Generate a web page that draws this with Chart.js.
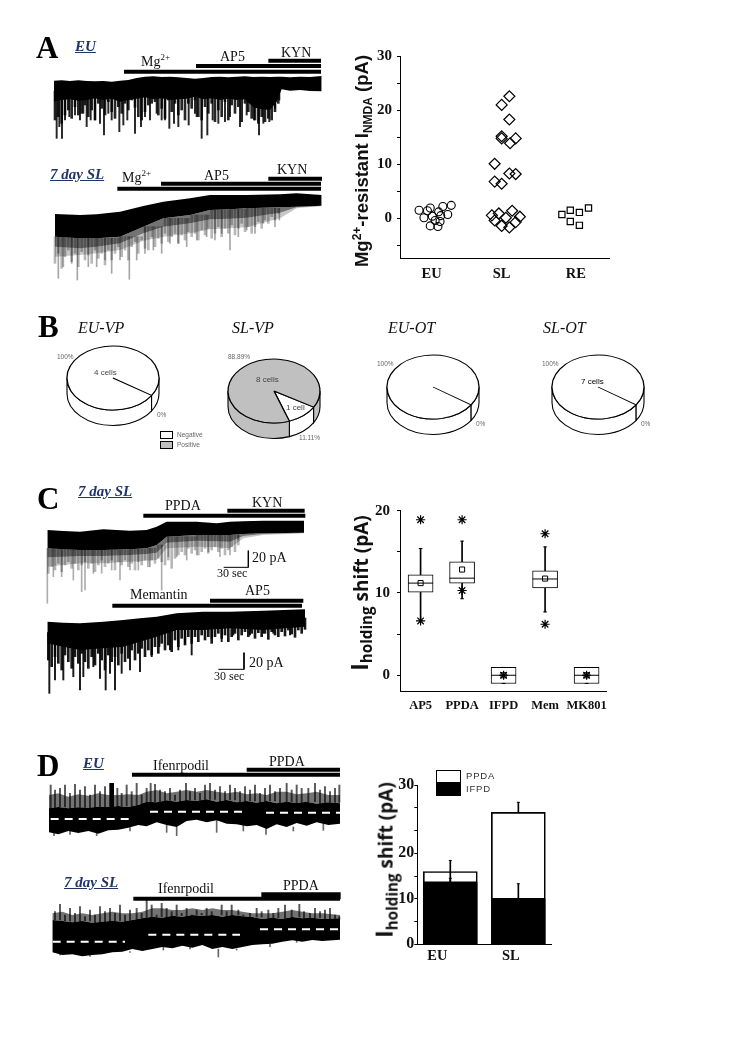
<!DOCTYPE html>
<html>
<head>
<meta charset="utf-8">
<title>Mg-resistant NMDA currents</title>
<script src="https://cdn.jsdelivr.net/npm/chart.js@4/dist/chart.umd.js"></script>
<style>
  html, body { margin: 0; background: #fff; }
  #page { position: relative; width: 730px; height: 1037px; overflow: hidden; }
  canvas { position: absolute; }
  .t { position: absolute; white-space: nowrap; line-height: 1; font-family: "Liberation Serif", serif; color: #111; }
  .letter { font-size: 31px; font-weight: bold; color: #000; }
  .tag { font-size: 15px; font-weight: bold; font-style: italic; color: #1f3468; text-decoration: underline; }
  .drug { font-size: 14px; }
  .pietitle { font-size: 16px; font-style: italic; }
  .small { position: absolute; white-space: nowrap; line-height: 1; font-family: "Liberation Sans", sans-serif; font-size: 6.5px; color: #666; transform: translateY(-50%); }
  .mid { font-size: 8px; color: #444; }
  .vert { position: absolute; white-space: nowrap; line-height: 1; font-weight: bold; color: #111; transform: translate(-50%, -50%) rotate(-90deg); }
  .vert sub, .vert sup { line-height: 0; }
  .sw { position: absolute; box-sizing: border-box; border: 1px solid #000; }
</style>
</head>
<body>
<div id="page">
  <canvas id="tracesA" width="310" height="270" style="left:30px;top:20px"></canvas>
  <canvas id="tracesC" width="310" height="230" style="left:30px;top:480px"></canvas>
  <canvas id="tracesD" width="320" height="220" style="left:30px;top:745px"></canvas>
  <canvas id="scatterA" width="280" height="250" style="left:340px;top:40px"></canvas>
  <canvas id="boxC" width="280" height="230" style="left:340px;top:490px"></canvas>
  <canvas id="barD" width="210" height="210" style="left:360px;top:760px"></canvas>
  <canvas id="pieEuVp" width="110" height="110" style="left:58px;top:323px"></canvas>
  <canvas id="pieSlVp" width="110" height="110" style="left:219px;top:336px"></canvas>
  <canvas id="pieEuOt" width="110" height="110" style="left:378px;top:332px"></canvas>
  <canvas id="pieSlOt" width="110" height="110" style="left:543px;top:332px"></canvas>
</div>
<script>
// ---- Panel A scatter: Mg2+-resistant I_NMDA (pA)
const scatterTicks = [-5, 0, 5, 10, 15, 20, 25, 30];
const scatterLabelled = [0, 10, 20, 30];
const groupNames = ['EU', 'SL', 'RE'];
const euX = [0.82, 0.89, 0.94, 0.98, 1.01, 0.98, 1.05, 1.09, 1.10, 1.12, 1.13, 1.16, 1.23, 1.28];
const euY = [1.5, 0.1, 1.4, 1.9, 0.4, -1.4, -0.4, -1.5, 1.2, -0.6, 0.5, 2.2, 0.7, 2.4];
const slX = [2.11, 2.0, 2.11, 2.0, 2.0, 2.2, 2.12, 1.9, 2.11, 2.2, 1.9, 2.0, 2.15, 1.96, 1.86, 2.26, 2.06, 1.9, 2.2, 2.0, 2.11];
const slY = [22.6, 21.0, 18.3, 15.2, 14.8, 14.8, 13.9, 10.1, 8.3, 8.2, 6.8, 6.4, 1.4, 0.9, 0.55, 0.3, 0.1, -0.4, -0.7, -1.4, -1.7];
const reX = [2.86, 2.98, 3.11, 3.24, 2.98, 3.11];
const reY = [0.7, 1.5, 1.1, 1.9, -0.6, -1.3];

// ---- Panel C box plot: I_holding shift (pA)
const drugNames = ['AP5', 'PPDA', 'IFPD', 'Mem', 'MK801'];
const drugPos = [1, 2, 3, 4, 5];
const boxLow = [10.1, 11.2, -1, 10.6, -1];
const boxHigh = [12.2, 13.8, 0.95, 12.7, 0.95];
const boxMedian = [11.2, 11.8, 0, 11.7, 0];
const boxMean = [11.2, 12.85, 0, 11.75, 0];
const whiskerLow = [6.6, 9.3, -1, 7.7, -1];
const whiskerHigh = [15.4, 16.3, 0.95, 15.6, 0.95];
const outlierX = [1, 1, 2, 2, 3, 4, 4, 5];
const outlierY = [18.9, 6.6, 18.9, 10.3, 0, 17.2, 6.2, 0];
const boxTicks = [0, 5, 10, 15, 20];
const boxLabelled = [0, 10, 20];

// ---- Panel D stacked bars. The printed axis is uneven: its "30" sits one
// step too high, so the top tick label is hung on the 35 position.
const barPos = [1, 2];
const barNames = ['EU', 'SL'];
const ifpdValues = [13.5, 9.9];
const ifpdError = [14.5, 13.3];
const totalValues = [16, 29];
const totalError = [18.4, 31.2];
const totalErrorLow = [13, 29];
const barTicks = [0, 5, 10, 15, 20, 25, 30, 35];
const barLabels = { 0: '0', 10: '10', 20: '20', 35: '30' };

// ---- Panel B pies (% of cells)
const pieNames = ['Negative', 'Positive'];
const euVpShare = [100, 0];
const slVpShare = [11.11, 88.89];
const euOtShare = [100, 0];
const slOtShare = [100, 0];

// ---- Recordings in trace units (time, deflection downward)
const a1Time = [72, 95, 120, 145, 170, 195, 220, 245, 270, 295, 320, 345, 370, 395, 420, 445, 470, 495, 520, 545, 570, 595, 620, 645, 670, 695, 720, 740, 755, 780, 810, 840, 875];
const a1Top = [182, 181, 183, 181, 183, 184, 183, 185, 182, 180, 174, 170, 169, 171, 170, 172, 174, 176, 174, 171, 170, 172, 170, 169, 171, 170, 171, 170, 170, 172, 170, 171, 168];
const a1Body = [245, 240, 238, 242, 240, 235, 240, 236, 245, 240, 236, 232, 238, 235, 240, 238, 236, 230, 238, 235, 240, 236, 240, 238, 262, 268, 270, 245, 208, 212, 210, 213, 214];
const a1SpikeTime = [80, 88, 96, 105, 118, 135, 150, 160, 170, 182, 195, 210, 222, 235, 245, 268, 280, 292, 315, 333, 345, 360, 380, 395, 405, 418, 432, 445, 476, 495, 500, 515, 532, 548, 565, 585, 600, 630, 650, 672, 687, 700, 718, 735, 748];
const a1SpikeTip = [355, 320, 355, 300, 290, 285, 300, 280, 320, 300, 300, 310, 345, 280, 300, 335, 315, 300, 340, 320, 290, 300, 280, 300, 300, 325, 310, 320, 315, 280, 290, 355, 345, 300, 310, 305, 290, 320, 285, 300, 345, 310, 305, 265, 240];
const a1FringeTime = [75, 85, 95, 105, 115, 125, 135, 145, 155, 165, 175, 185, 195, 205, 215, 225, 235, 245, 255, 265, 275, 285, 295, 305, 315, 325, 335, 345, 355, 365, 375, 385, 395, 405, 415, 425, 435, 445, 455, 465, 475, 485, 495, 505, 515, 525, 535, 545, 555, 565, 575, 585, 595, 605, 615, 625, 635, 645, 655, 665, 675, 685, 695, 705, 715, 725, 735, 745];
const a1FringeTip = [300, 290, 310, 285, 270, 295, 260, 285, 280, 255, 290, 270, 300, 250, 265, 285, 245, 275, 295, 260, 280, 250, 270, 240, 262, 290, 300, 275, 255, 250, 245, 285, 265, 295, 240, 275, 250, 285, 270, 300, 250, 265, 240, 290, 300, 260, 280, 250, 305, 270, 290, 245, 300, 255, 280, 260, 305, 250, 275, 295, 300, 310, 290, 305, 295, 300, 275, 250];

const a2Time = [75, 150, 200, 270, 340, 400, 480, 540, 600, 650, 750, 800, 875];
const a2Top = [582, 585, 583, 575, 558, 545, 535, 525, 525, 525, 523, 520, 525];
const a2Body = [650, 655, 655, 650, 620, 595, 585, 570, 568, 565, 562, 560, 557];
const a2Mid = [680, 685, 680, 670, 640, 620, 610, 598, 596, 593, 578, 562, 558];
const a2Tail = [710, 705, 700, 690, 662, 650, 640, 628, 625, 622, 595, 565, 558];
const a2SpikeTime = [85, 100, 125, 142, 175, 200, 225, 245, 270, 298, 320, 345, 370, 395, 420, 445, 470, 500, 530, 555, 575, 600, 625, 650, 675, 700, 735, 748];
const a2SpikeTip = [775, 740, 730, 780, 740, 740, 720, 760, 720, 778, 720, 700, 690, 700, 670, 670, 680, 660, 650, 660, 640, 690, 650, 630, 640, 610, 620, 600];
const a2FringeTime = [75, 85, 95, 105, 115, 125, 135, 145, 155, 165, 175, 185, 195, 205, 215, 225, 235, 245, 255, 265, 275, 285, 295, 305, 315, 325, 335, 345, 355, 365, 375, 385, 395, 405, 415, 425, 435, 445, 455, 465, 475, 485, 495, 505, 515, 525, 535, 545, 555, 565, 575, 585, 595, 605, 615, 625, 635, 645, 655, 665, 675, 685, 695, 705, 715, 725, 735, 745];
const a2FringeTip = [730, 700, 745, 710, 690, 725, 700, 740, 695, 720, 705, 730, 690, 715, 700, 735, 690, 720, 700, 680, 710, 690, 720, 680, 665, 700, 660, 685, 690, 650, 680, 655, 670, 640, 665, 650, 640, 670, 645, 660, 635, 650, 640, 660, 630, 645, 625, 655, 640, 620, 650, 625, 640, 615, 645, 625, 610, 635, 620, 640, 620, 605, 625, 600, 610, 590, 600, 580];

const c1Time = [52, 100, 150, 220, 300, 350, 380, 410, 500, 560, 600, 640, 700, 822];
const c1Top = [150, 153, 155, 148, 152, 150, 140, 125, 125, 130, 125, 124, 122, 122];
const c1Body = [205, 208, 210, 210, 208, 205, 195, 170, 165, 165, 165, 162, 160, 158];
const c1Mid = [232, 230, 228, 228, 225, 222, 218, 188, 182, 184, 185, 168, 162, 159];
const c1Tail = [260, 255, 250, 250, 245, 242, 240, 205, 200, 202, 205, 175, 165, 160];
const c1SpikeTime = [52, 70, 95, 130, 155, 165, 190, 215, 245, 270, 300, 325, 360, 395, 415, 440, 470, 500, 535, 570, 600, 625];
const c1SpikeTip = [370, 290, 290, 300, 335, 330, 280, 280, 270, 300, 270, 270, 260, 330, 230, 230, 240, 225, 215, 230, 225, 180];
const c1FringeTime = [55, 65, 75, 85, 95, 105, 115, 125, 135, 145, 155, 165, 175, 185, 195, 205, 215, 225, 235, 245, 255, 265, 275, 285, 295, 305, 315, 325, 335, 345, 355, 365, 375, 385, 395, 405, 415, 425, 435, 445, 455, 465, 475, 485, 495, 505, 515, 525, 535, 545, 555, 565, 575, 585, 595, 605, 615, 625];
const c1FringeTip = [280, 260, 270, 250, 275, 255, 245, 265, 250, 270, 255, 245, 265, 250, 275, 255, 240, 260, 250, 240, 270, 245, 255, 240, 260, 250, 270, 245, 255, 240, 260, 240, 250, 235, 245, 255, 240, 265, 235, 225, 215, 225, 205, 220, 210, 225, 215, 205, 220, 210, 200, 215, 205, 225, 210, 200, 215, 195];

const c2Time = [52, 100, 150, 220, 280, 330, 380, 440, 520, 600, 700, 825];
const c2Top = [425, 428, 430, 425, 420, 415, 410, 400, 395, 395, 392, 388];
const c2Body = [490, 500, 510, 505, 500, 485, 470, 450, 450, 445, 450, 440];
const c2SpikeTime = [58, 75, 100, 130, 150, 160, 190, 210, 227, 240, 255, 275, 300, 330, 365, 388, 420, 445, 465, 485, 545, 575, 610, 660, 700, 730, 780];
const c2SpikeTip = [640, 600, 600, 590, 630, 590, 560, 595, 630, 580, 630, 580, 570, 575, 530, 500, 510, 510, 490, 525, 475, 485, 465, 465, 460, 460, 465];
const c2FringeTime = [55, 65, 75, 85, 95, 105, 115, 125, 135, 145, 155, 165, 175, 185, 195, 205, 215, 225, 235, 245, 255, 265, 275, 285, 295, 305, 315, 325, 335, 345, 355, 365, 375, 385, 395, 405, 415, 425, 435, 445, 455, 465, 475, 485, 495, 505, 515, 525, 535, 545, 555, 565, 575, 585, 595, 605, 615, 625, 635, 645, 655, 665, 675, 685, 695, 705, 715, 725, 735, 745, 755, 765, 775, 785, 795, 805, 815, 825];
const c2FringeTip = [540, 560, 530, 550, 570, 525, 545, 565, 530, 550, 520, 545, 565, 530, 555, 520, 540, 570, 525, 545, 530, 555, 520, 545, 535, 510, 540, 520, 505, 530, 510, 525, 500, 520, 490, 510, 495, 515, 480, 500, 475, 495, 470, 490, 470, 485, 465, 480, 470, 490, 470, 460, 475, 465, 485, 470, 460, 480, 465, 455, 470, 460, 475, 458, 470, 460, 478, 455, 465, 470, 455, 468, 450, 462, 472, 450, 460, 448];

const d1Time = [57, 85, 115, 145, 175, 205, 235, 265, 295, 325, 350, 380, 410, 440, 470, 500, 530, 560, 590, 620, 650, 680, 710, 740, 770, 800, 830, 860, 895, 930];
const d1Haze = [150, 145, 155, 148, 152, 145, 150, 150, 148, 150, 140, 135, 145, 140, 135, 140, 135, 140, 145, 140, 148, 145, 150, 140, 140, 148, 145, 140, 150, 150];
const d1Top = [190, 186, 190, 187, 188, 185, 186, 183, 186, 180, 170, 172, 166, 170, 165, 168, 163, 170, 165, 172, 168, 173, 168, 175, 170, 174, 170, 176, 172, 175];
const d1Body = [262, 268, 258, 264, 258, 266, 256, 254, 248, 240, 244, 232, 240, 246, 228, 224, 232, 226, 236, 238, 244, 240, 252, 238, 246, 234, 242, 232, 240, 236];
const d1UpTime = [62, 75, 90, 105, 120, 135, 150, 165, 180, 195, 210, 225, 262, 275, 290, 305, 320, 335, 350, 362, 375, 390, 405, 420, 435, 450, 468, 480, 495, 510, 525, 540, 555, 570, 585, 600, 615, 630, 645, 660, 675, 690, 705, 720, 735, 750, 770, 785, 800, 815, 835, 855, 870, 885, 900, 915, 928];
const d1UpTip = [120, 135, 130, 120, 145, 118, 135, 125, 150, 120, 140, 125, 130, 145, 120, 140, 115, 150, 130, 115, 118, 135, 140, 130, 150, 135, 115, 140, 130, 145, 120, 115, 135, 125, 140, 120, 130, 140, 125, 135, 120, 145, 130, 120, 140, 130, 115, 135, 120, 130, 130, 115, 135, 125, 140, 130, 120];
const d1DownTime = [72, 120, 200, 300, 410, 440, 560, 640, 708, 790, 880];
const d1DownTip = [272, 268, 272, 258, 262, 272, 262, 258, 268, 258, 256];
const d1Burst = [245];
const d1BurstTip = [115];

const d2Time = [67, 97, 127, 157, 187, 217, 247, 277, 307, 337, 367, 397, 427, 457, 487, 517, 547, 577, 607, 637, 667, 697, 727, 757, 787, 817, 847, 877, 930];
const d2Haze = [505, 500, 510, 505, 510, 505, 500, 505, 505, 500, 490, 490, 495, 495, 490, 495, 490, 495, 495, 500, 505, 505, 505, 500, 495, 500, 505, 505, 510];
const d2Top = [525, 528, 532, 528, 533, 530, 527, 530, 525, 520, 515, 518, 512, 515, 510, 513, 510, 515, 510, 514, 516, 522, 518, 522, 516, 520, 518, 522, 520];
const d2Body = [622, 630, 628, 634, 630, 628, 622, 620, 612, 618, 612, 606, 610, 602, 608, 600, 612, 606, 612, 606, 600, 598, 596, 590, 586, 590, 585, 588, 584];
const d2UpTime = [75, 90, 105, 120, 135, 150, 165, 180, 195, 210, 225, 240, 255, 270, 285, 300, 320, 335, 350, 365, 380, 395, 410, 425, 440, 455, 470, 485, 500, 515, 530, 545, 575, 590, 605, 625, 640, 660, 680, 695, 715, 730, 745, 765, 785, 808, 822, 840, 855, 870, 885, 900, 915, 928];
const d2UpTip = [500, 478, 510, 490, 505, 485, 515, 495, 510, 485, 500, 490, 505, 480, 510, 495, 490, 505, 465, 480, 510, 475, 490, 500, 480, 505, 490, 510, 495, 505, 490, 500, 480, 500, 480, 495, 510, 505, 490, 500, 495, 505, 490, 480, 495, 478, 500, 505, 490, 500, 495, 490, 510, 515];
const d2DownTime = [90, 180, 300, 400, 480, 565, 620, 720, 800];
const d2DownTip = [630, 632, 622, 615, 612, 636, 615, 605, 592];

// Chart.js defaults
Chart.defaults.animation = false;
Chart.defaults.responsive = false;
Chart.defaults.plugins.legend.display = false;
Chart.defaults.plugins.tooltip.enabled = false;

const INK = '#000';
const SERIF = 'Liberation Serif';

// Hàm vẽ thanh ngang (thuốc, thang đo, đường cơ sở)
function segment(x0, y0, x1, y1, width, color, dash) {
  return {
    type: 'line', order: 1, data: [{ x: x0, y: y0 }, { x: x1, y: y1 }],
    borderColor: color || INK, borderWidth: width, pointRadius: 0,
    borderDash: dash || [], borderCapStyle: 'butt'
  };
}

function points(xs, ys) {
  return xs.map((x, i) => ({ x: x, y: ys[i] }));
}

// filled band between two outlines of a trace
function band(time, upper, lower, color) {
  return [
    { type: 'line', order: 3, data: points(time, upper), borderWidth: 0, pointRadius: 0, fill: '+1', backgroundColor: color },
    { type: 'line', order: 3, data: points(time, lower), borderWidth: 0, pointRadius: 0, fill: false }
  ];
}

// middle of the trace body at the last sample before t, spikes start from there
function bodyAt(time, top, body, t) {
  let k = 0;
  time.forEach((v, i) => { if (v <= t) k = i; });
  return (top[k] + body[k]) / 2;
}

function spikes(spikeTime, spikeTip, time, top, body, color, thickness) {
  return {
    type: 'bar', order: 2, grouped: false, barThickness: thickness || 1,
    data: spikeTime.map((t, i) => ({ x: t, y: [bodyAt(time, top, body, t), spikeTip[i]] })),
    backgroundColor: color, borderWidth: 0
  };
}

function traceChart(id, xMax, yMax, datasets) {
  return new Chart(document.getElementById(id), {
    type: 'bar',
    data: { datasets: datasets },
    options: {
      layout: { padding: 0 },
      scales: {
        x: { type: 'linear', display: false, min: 0, max: xMax, offset: false },
        y: { type: 'linear', display: false, min: 0, max: yMax, reverse: true }
      }
    }
  });
}

traceChart('tracesA', 930, 810, [
  segment(282, 155, 873, 155, 4), segment(498, 138, 873, 138, 4), segment(715, 122, 873, 122, 4),
  segment(262, 506, 873, 506, 4), segment(393, 491, 873, 491, 4), segment(715, 476, 876, 476, 4),
  ...band(a1Time, a1Top, a1Body, '#000'),
  spikes(a1FringeTime, a1FringeTip, a1Time, a1Top, a1Body, 'rgba(0,0,0,0.85)', 2),
  spikes(a1SpikeTime, a1SpikeTip, a1Time, a1Top, a1Body, 'rgba(0,0,0,0.85)', 1.3),
  ...band(a2Time, a2Top, a2Body, '#000'),
  ...band(a2Time, a2Body, a2Mid, 'rgba(0,0,0,0.55)'),
  ...band(a2Time, a2Mid, a2Tail, 'rgba(0,0,0,0.22)'),
  spikes(a2FringeTime, a2FringeTip, a2Time, a2Body, a2Body, 'rgba(0,0,0,0.28)', 2),
  spikes(a2SpikeTime, a2SpikeTip, a2Time, a2Body, a2Body, 'rgba(0,0,0,0.35)', 1)
]);

traceChart('tracesC', 930, 690, [
  segment(340, 107, 826, 107, 4), segment(592, 92, 824, 92, 4),
  segment(247, 377, 816, 377, 4), segment(540, 362, 820, 362, 4),
  segment(655, 212, 655, 262, 1), segment(581, 262, 655, 262, 1),
  segment(642, 518, 642, 568, 1), segment(565, 568, 642, 568, 1),
  ...band(c1Time, c1Top, c1Body, '#000'),
  ...band(c1Time, c1Body, c1Mid, 'rgba(0,0,0,0.55)'),
  ...band(c1Time, c1Mid, c1Tail, 'rgba(0,0,0,0.22)'),
  spikes(c1FringeTime, c1FringeTip, c1Time, c1Body, c1Body, 'rgba(0,0,0,0.28)', 2),
  spikes(c1SpikeTime, c1SpikeTip, c1Time, c1Body, c1Body, 'rgba(0,0,0,0.32)', 1),
  ...band(c2Time, c2Top, c2Body, '#000'),
  spikes(c2FringeTime, c2FringeTip, c2Time, c2Top, c2Body, 'rgba(0,0,0,0.9)', 2),
  spikes(c2SpikeTime, c2SpikeTip, c2Time, c2Top, c2Body, 'rgba(0,0,0,0.9)', 1.3)
]);

const DASH = [8, 6];
traceChart('tracesD', 960, 660, [
  segment(62, 222, 300, 222, 2, '#fff', DASH), segment(360, 200, 640, 200, 2, '#fff', DASH), segment(708, 203, 930, 203, 2, '#fff', DASH),
  segment(68, 590, 285, 590, 2, '#fff', DASH), segment(355, 569, 630, 569, 2, '#fff', DASH), segment(690, 553, 925, 553, 2, '#fff', DASH),
  segment(306, 89, 930, 89, 4), segment(650, 74, 930, 74, 4),
  segment(310, 461, 930, 461, 4), segment(694, 452, 932, 452, 7),
  ...band(d1Time, d1Haze, d1Top, 'rgba(0,0,0,0.55)'),
  ...band(d1Time, d1Top, d1Body, '#000'),
  spikes(d1UpTime, d1UpTip, d1Time, d1Top, d1Top, 'rgba(0,0,0,0.65)', 1.3),
  spikes(d1DownTime, d1DownTip, d1Time, d1Body, d1Body, 'rgba(0,0,0,0.6)', 1),
  spikes(d1Burst, d1BurstTip, d1Time, d1Top, d1Top, '#000', 4),
  ...band(d2Time, d2Haze, d2Top, 'rgba(0,0,0,0.55)'),
  ...band(d2Time, d2Top, d2Body, '#000'),
  spikes(d2UpTime, d2UpTip, d2Time, d2Top, d2Top, 'rgba(0,0,0,0.65)', 1.3),
  spikes(d2DownTime, d2DownTip, d2Time, d2Body, d2Body, 'rgba(0,0,0,0.6)', 1)
]);

// x/y axis options shared by the three plots
function valueAxis(min, max, ticks, labelOf, axisWidth, fontSize, pad) {
  return {
    type: 'linear', min: min, max: max,
    afterBuildTicks: s => { s.ticks = ticks.map(v => ({ value: v })); },
    afterFit: s => { s.width = axisWidth; },
    grid: { display: true, drawOnChartArea: false, drawTicks: true, tickLength: 3, color: INK, tickColor: INK },
    border: { color: INK, width: 1 },
    ticks: { callback: labelOf, padding: pad, color: '#111', font: { family: SERIF, weight: 'bold', size: fontSize } }
  };
}

function nameAxis(min, max, ticks, labelOf, axisHeight, fontSize, pad) {
  return {
    type: 'linear', min: min, max: max, offset: false,
    afterBuildTicks: s => { s.ticks = ticks.map(v => ({ value: v })); },
    afterFit: s => { s.height = axisHeight; },
    grid: { display: false, drawTicks: false },
    border: { color: INK, width: 1 },
    ticks: { callback: labelOf, autoSkip: false, maxRotation: 0, padding: pad, color: '#111', font: { family: SERIF, weight: 'bold', size: fontSize } }
  };
}

function markers(xs, ys, style, radius, weight) {
  return {
    type: 'scatter', order: 1, data: points(xs, ys), pointStyle: style, pointRadius: radius,
    pointBorderColor: INK, pointBorderWidth: weight || 1, pointBackgroundColor: 'rgba(255,255,255,0)', showLine: false
  };
}

const scatterSpots = [1, 2, 3.06];
new Chart(document.getElementById('scatterA'), {
  type: 'scatter',
  data: { datasets: [
    markers(euX, euY, 'circle', 4, 1.1),
    markers(slX, slY, 'rectRot', 5.5, 1.2),
    markers(reX, reY, 'rect', 4.4, 1.2)
  ] },
  options: {
    layout: { padding: { top: 16.3, right: 11, bottom: 0, left: 0 } },
    scales: {
      x: nameAxis(0.548, 3.533, scatterSpots, v => groupNames[scatterSpots.indexOf(v)] || '', 31.7, 14.5, 7),
      y: valueAxis(-7.4, 30, scatterTicks, v => scatterLabelled.includes(v) ? String(v) : '', 60, 15, 5)
    }
  }
});

// hộp: whisker, box, median, mean, outliers
new Chart(document.getElementById('boxC'), {
  type: 'bar',
  data: { datasets: [
    { type: 'bar', order: 4, grouped: false, barThickness: 1, data: drugPos.map((x, i) => ({ x: x, y: [whiskerLow[i], whiskerHigh[i]] })), backgroundColor: INK, borderWidth: 0 },
    { type: 'bar', order: 3, grouped: false, barThickness: 25, data: drugPos.map((x, i) => ({ x: x, y: [boxLow[i], boxHigh[i]] })), backgroundColor: '#fff', borderColor: INK, borderWidth: 1, borderSkipped: false },
    markers(drugPos, whiskerHigh, 'line', 1.8),
    markers(drugPos, whiskerLow, 'line', 1.8),
    markers(drugPos, boxMedian, 'line', 12.5),
    markers(drugPos, boxMean, 'rect', 3.6),
    markers(outlierX, outlierY, 'star', 4.6, 1.2)
  ] },
  options: {
    layout: { padding: { top: 20.7, right: 12.3, bottom: 0, left: 0 } },
    scales: {
      x: nameAxis(0.504, 5.48, drugPos, v => drugNames[drugPos.indexOf(v)] || '', 28.7, 12.5, 7),
      y: valueAxis(-1.95, 20, boxTicks, v => boxLabelled.includes(v) ? String(v) : '', 60, 15, 7)
    }
  }
});

const barSpots = [0.81, 1.89];
new Chart(document.getElementById('barD'), {
  type: 'bar',
  data: { datasets: [
    { type: 'bar', order: 5, grouped: false, barThickness: 1, data: barPos.map((x, i) => ({ x: x, y: [totalErrorLow[i], totalError[i]] })), backgroundColor: INK, borderWidth: 0 },
    { type: 'bar', order: 4, grouped: false, barThickness: 54, data: barPos.map((x, i) => ({ x: x, y: [ifpdValues[i], totalValues[i]] })), backgroundColor: 'rgba(255,255,255,0)', borderColor: INK, borderWidth: 1, borderSkipped: false },
    { type: 'bar', order: 3, grouped: false, barThickness: 1, data: barPos.map((x, i) => ({ x: x, y: [ifpdValues[i], ifpdError[i]] })), backgroundColor: INK, borderWidth: 0 },
    { type: 'bar', order: 2, grouped: false, barThickness: 54, data: barPos.map((x, i) => ({ x: x, y: [0, ifpdValues[i]] })), backgroundColor: INK, borderWidth: 0 },
    markers(barPos, totalError, 'line', 1.5),
    markers(barPos, ifpdError, 'line', 1.5)
  ] },
  options: {
    layout: { padding: { top: 25, right: 18.3, bottom: 0, left: 0 } },
    scales: {
      x: nameAxis(0.515, 2.49, barSpots, v => barNames[barSpots.indexOf(v)] || '', 25.7, 14.5, 3),
      y: valueAxis(0, 35, barTicks, v => barLabels[v] || '', 57.3, 16, 0)
    }
  }
});

// Hàm vẽ pie kiểu 3D: thành trụ vẽ trước, mặt trên ép dẹt
const SQUASH = 0.695;
const WALL = 15.5;
const pie3d = {
  id: 'pie3d',
  beforeDatasetsDraw(chart) {
    const ctx = chart.ctx;
    const arcs = chart.getDatasetMeta(0).data;
    const cx = arcs[0].x, cy = arcs[0].y, r = arcs[0].outerRadius;
    ctx.save();
    ctx.strokeStyle = INK;
    ctx.lineWidth = 1.1;
    arcs.forEach((arc, i) => {
      [0, -2 * Math.PI, 2 * Math.PI].forEach(shift => {
        const lo = Math.max(arc.startAngle + shift, 0);
        const hi = Math.min(arc.endAngle + shift, Math.PI);
        if (hi <= lo) return;
        ctx.beginPath();
        ctx.ellipse(cx, cy, r, r * SQUASH, 0, lo, hi);
        ctx.ellipse(cx, cy + WALL, r, r * SQUASH, 0, hi, lo, true);
        ctx.closePath();
        ctx.fillStyle = chart.data.datasets[0].backgroundColor[i];
        ctx.fill();
        ctx.stroke();
      });
    });
    ctx.restore();
    ctx.save();
    ctx.translate(0, cy);
    ctx.scale(1, SQUASH);
    ctx.translate(0, -cy);
  },
  afterDatasetsDraw(chart) {
    chart.ctx.restore();
  }
};

function pieChart(id, share, rotation) {
  return new Chart(document.getElementById(id), {
    type: 'pie',
    data: { labels: pieNames, datasets: [{
      data: share, backgroundColor: ['#fff', '#c0c0c0'], borderColor: INK, borderWidth: 1.3
    }] },
    options: { radius: 46, rotation: rotation, layout: { padding: 0 } },
    plugins: [pie3d]
  });
}

pieChart('pieEuVp', euVpShare, 123);
pieChart('pieSlVp', slVpShare, 120.5);
pieChart('pieEuOt', euOtShare, 124);
pieChart('pieSlOt', slOtShare, 124);

// Hàm đặt chữ: x trái, baseline y
const page = document.getElementById('page');
function text(str, x, baseline, cls) {
  const el = document.createElement('div');
  el.className = 't ' + cls;
  el.innerHTML = str;
  page.appendChild(el);
  const size = parseFloat(getComputedStyle(el).fontSize);
  el.style.left = x + 'px';
  el.style.top = (baseline - 0.84 * size) + 'px';
  return el;
}
function small(str, x, cy, cls) {
  const el = document.createElement('div');
  el.className = 'small ' + (cls || '');
  el.textContent = str;
  el.style.left = x + 'px';
  el.style.top = cy + 'px';
  page.appendChild(el);
  return el;
}
function vertical(html, cx, cy, size, family) {
  const el = document.createElement('div');
  el.className = 'vert';
  el.innerHTML = html;
  el.style.left = cx + 'px';
  el.style.top = cy + 'px';
  el.style.fontSize = size + 'px';
  el.style.fontFamily = family;
  page.appendChild(el);
}
function swatch(x, y, w, h, color) {
  const el = document.createElement('div');
  el.className = 'sw';
  el.style.cssText = `left:${x}px;top:${y}px;width:${w}px;height:${h}px;background:${color}`;
  page.appendChild(el);
}

text('A', 36, 58, 'letter');
text('B', 38, 337, 'letter');
text('C', 37, 509, 'letter');
text('D', 37, 776, 'letter');

text('EU', 75, 52, 'tag');
text('7 day SL', 50, 180, 'tag');
text('7 day SL', 78, 497, 'tag');
text('EU', 83, 769, 'tag');
text('7 day SL', 64, 888, 'tag');

text('Mg<sup style="font-size:9px;line-height:0">2+</sup>', 141, 67, 'drug');
text('AP5', 220, 62, 'drug');
text('KYN', 281, 58, 'drug');
text('Mg<sup style="font-size:9px;line-height:0">2+</sup>', 122, 183, 'drug');
text('AP5', 204, 181, 'drug');
text('KYN', 277, 175, 'drug');

text('PPDA', 165, 511, 'drug');
text('KYN', 252, 508, 'drug');
text('20 pA', 252, 563, 'drug');
text('30 sec', 217, 579, 'drug').style.fontSize = '12px';
text('Memantin', 130, 600, 'drug');
text('AP5', 245, 596, 'drug');
text('20 pA', 249, 668, 'drug');
text('30 sec', 214, 682, 'drug').style.fontSize = '12px';

text('Ifenrpodil', 153, 771, 'drug');
text('PPDA', 269, 767, 'drug');
text('Ifenrpodil', 158, 894, 'drug');
text('PPDA', 283, 891, 'drug');

text('EU-VP', 78, 333, 'pietitle');
text('SL-VP', 232, 333, 'pietitle');
text('EU-OT', 388, 333, 'pietitle');
text('SL-OT', 543, 333, 'pietitle');

small('100%', 57, 357);
small('4 cells', 94, 373, 'mid');
small('0%', 157, 415);
small('88.89%', 228, 357);
small('8 cells', 256, 380, 'mid');
small('1 cell', 286, 408, 'mid');
small('11.11%', 299, 438);
small('100%', 377, 364);
small('0%', 476, 424);
small('100%', 542, 364);
small('7 cells', 581, 382, 'mid').style.color = '#000';
small('0%', 641, 424);

swatch(160, 431, 13, 8, '#fff');
swatch(160, 441, 13, 8, '#c0c0c0');
small('Negative', 177, 435);
small('Positive', 177, 445);

swatch(436, 770, 25, 13, '#fff');
swatch(436, 782, 25, 14, '#000');
small('PPDA', 466, 776).style.cssText += 'font-size:9.5px;letter-spacing:.8px;color:#333';
small('IFPD', 466, 789).style.cssText += 'font-size:9.5px;letter-spacing:.8px;color:#333';

vertical('Mg<sup style="font-size:.65em">2+</sup>-resistant I<sub style="font-size:.65em">NMDA</sub> (pA)', 362, 161, 18.5, '"Liberation Sans", sans-serif');
vertical('<span style="font-size:1.2em">I</span><sub style="font-size:.8em">holding</sub> shift (pA)', 360, 593, 19, '"Open Sans", sans-serif');
vertical('<span style="font-size:1.2em">I</span><sub style="font-size:.8em">holding</sub> shift (pA)', 385, 860, 19, '"Open Sans", sans-serif');
</script>
</body>
</html>
